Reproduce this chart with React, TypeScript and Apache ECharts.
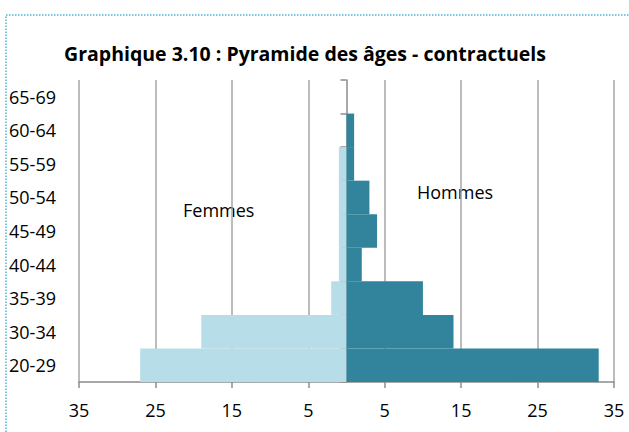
import React, { useEffect, useRef } from "react";
import * as echarts from "echarts";

const categories = ["20-29", "30-34", "35-39", "40-44", "45-49", "50-54", "55-59", "60-64", "65-69"];
const femmes = [27, 19, 2, 1, 1, 1, 1, 0, 0];
const hommes = [33, 14, 10, 2, 4, 3, 1, 1, 0];
const title = "Graphique 3.10 : Pyramide des âges - contractuels";
const femmesLabel = "Femmes";
const hommesLabel = "Hommes";

const FONT = "'Open Sans', 'Noto Sans', sans-serif";

export default function App() {
  const ref = useRef<HTMLDivElement>(null);
  useEffect(() => {
    document.body.style.margin = "0";
    const chart = echarts.init(ref.current!, null, { renderer: "svg" });
    chart.setOption({
      animation: false,
      backgroundColor: "#ffffff",
      textStyle: { fontFamily: FONT },
      title: {
        text: title,
        left: 300,
        textAlign: "center",
        top: 38,
        textStyle: { fontFamily: FONT, fontWeight: "bold", fontSize: 19.5, color: "#000" },
      },
      graphic: [
        {
          type: "polyline",
          shape: { points: [[6, 432], [6, 15], [629, 15]] },
          style: { stroke: "#4FB6D6", lineWidth: 1.5, lineDash: [1.5, 1.5], fill: "none" },
          silent: true,
        },
        {
          type: "text",
          left: 183,
          top: 201,
          style: { text: femmesLabel, font: `18px ${FONT}`, fill: "#000" },
        },
        {
          type: "text",
          left: 417,
          top: 183,
          style: { text: hommesLabel, font: `18px ${FONT}`, fill: "#000" },
        },
      ],
      grid: { left: 79, right: 15, top: 80, bottom: 50 },
      xAxis: {
        type: "value",
        min: -35,
        max: 35,
        interval: 10,
        axisLine: { show: true, lineStyle: { color: "#8c8c8c", width: 1.5 } },
        axisTick: { show: true, length: 6, lineStyle: { color: "#8c8c8c", width: 1.5 } },
        splitLine: { show: true, lineStyle: { color: "#a6a6a6", width: 1.5 } },
        axisLabel: {
          formatter: (v: number) => String(Math.abs(v)),
          fontSize: 18,
          color: "#000",
          margin: 19,
          fontFamily: FONT,
        },
      },
      yAxis: [
        {
          type: "category",
          data: categories,
          axisLine: { show: false, onZero: false },
          axisTick: { show: false },
          axisLabel: {
            fontSize: 18,
            color: "#000",
            align: "left",
            margin: 70,
            fontFamily: FONT,
          },
        },
        {
          type: "category",
          data: categories,
          position: "left",
          axisLine: { show: true, onZero: true, lineStyle: { color: "#8c8c8c", width: 1.5 } },
          axisTick: { show: true, length: 6, lineStyle: { color: "#8c8c8c", width: 1.5 } },
          axisLabel: { show: false },
        },
      ],
      series: [
        {
          name: femmesLabel,
          type: "bar",
          yAxisIndex: 0,
          data: femmes.map((v) => -v),
          barCategoryGap: 0,
          barGap: "-100%",
          itemStyle: { color: "#B7DDE8" },
          z: 1,
        },
        {
          name: hommesLabel,
          type: "bar",
          yAxisIndex: 0,
          data: hommes,
          barCategoryGap: 0,
          barGap: "-100%",
          itemStyle: { color: "#31849B" },
          z: 1,
        },
      ],
    });
    return () => chart.dispose();
  }, []);
  return <div ref={ref} style={{ width: 629, height: 432 }} />;
}
